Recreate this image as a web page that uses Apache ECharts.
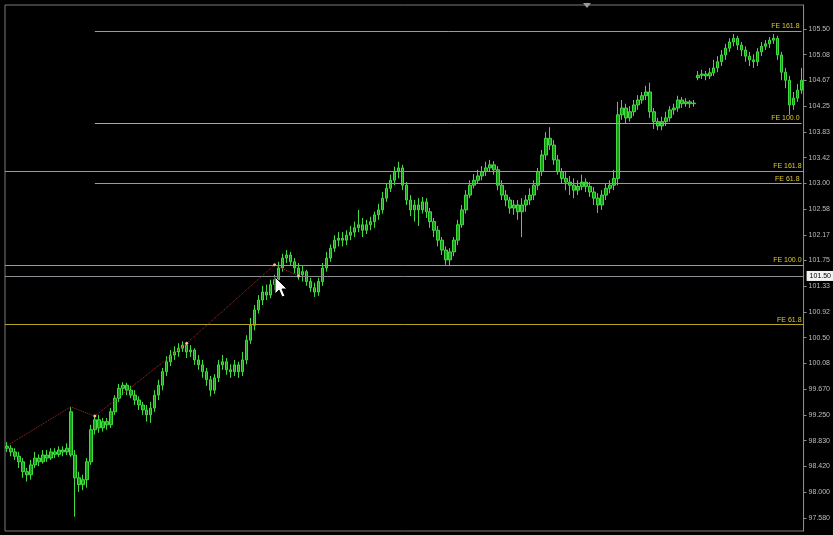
<!DOCTYPE html>
<html><head><meta charset="utf-8">
<script src="https://cdn.jsdelivr.net/npm/echarts@6/dist/echarts.min.js"></script>
<style>html,body{margin:0;padding:0;background:#000;}#c{width:833px;height:535px;}</style>
</head><body><div id="c"></div>
<script>
// OHLC bars: [open, close, low, high]
const bars = [
[98.74,98.71,98.65,98.81],[98.71,98.65,98.58,98.76],[98.65,98.58,98.52,98.71],[98.58,98.49,98.39,98.65],[98.49,98.33,98.23,98.55],
[98.33,98.28,98.17,98.39],[98.28,98.44,98.20,98.52],[98.44,98.55,98.39,98.65],[98.55,98.49,98.42,98.61],[98.49,98.60,98.46,98.68],
[98.60,98.55,98.49,98.68],[98.55,98.65,98.52,98.71],[98.65,98.61,98.55,98.71],[98.61,98.68,98.57,98.74],[98.68,98.65,98.58,98.74],
[98.65,98.71,98.60,98.79],[98.60,99.30,98.57,99.38],[98.60,98.23,97.60,98.68],[98.23,98.12,98.00,98.33],[98.12,98.20,98.03,98.28],
[98.20,98.49,98.07,98.55],[98.49,99.01,98.44,99.09],[99.01,99.17,98.93,99.25],[99.17,99.04,98.96,99.25],[99.04,99.14,98.98,99.20],
[99.14,99.09,99.01,99.20],[99.09,99.30,99.04,99.36],[99.30,99.52,99.25,99.57],[99.52,99.68,99.46,99.75],[99.68,99.73,99.57,99.78],
[99.73,99.65,99.57,99.77],[99.65,99.57,99.52,99.72],[99.57,99.49,99.41,99.65],[99.49,99.41,99.33,99.55],[99.41,99.33,99.25,99.46],
[99.33,99.25,99.14,99.41],[99.25,99.36,99.12,99.46],[99.36,99.57,99.30,99.65],[99.57,99.73,99.49,99.82],[99.73,99.95,99.65,100.01],
[99.95,100.11,99.88,100.20],[100.11,100.22,100.04,100.30],[100.22,100.27,100.14,100.36],[100.27,100.33,100.19,100.41],[100.33,100.38,100.27,100.44],
[100.38,100.27,100.17,100.43],[100.27,100.30,100.19,100.38],[100.30,100.14,100.06,100.33],[100.14,100.06,99.98,100.22],[100.06,99.95,99.85,100.14],
[99.95,99.82,99.72,100.01],[99.82,99.65,99.55,99.88],[99.65,99.85,99.59,99.91],[99.85,100.06,99.78,100.14],[100.06,100.11,99.98,100.22],
[100.11,99.98,99.90,100.17],[99.98,99.95,99.85,100.07],[99.95,100.06,99.88,100.14],[100.06,99.95,99.85,100.11],[99.95,100.14,99.88,100.27],
[100.14,100.46,100.07,100.54],[100.46,100.70,100.40,100.82],[100.70,100.95,100.62,101.03],[100.95,101.11,100.89,101.19],[101.11,101.24,101.03,101.34],
[101.24,101.19,101.11,101.36],[101.19,101.36,101.14,101.44],[101.36,101.44,101.27,101.52],[101.44,101.63,101.38,101.73],[101.63,101.79,101.57,101.86],
[101.79,101.84,101.71,101.92],[101.84,101.73,101.66,101.89],[101.73,101.63,101.54,101.79],[101.63,101.52,101.44,101.71],[101.52,101.57,101.41,101.66],
[101.57,101.41,101.34,101.60],[101.41,101.31,101.24,101.47],[101.31,101.24,101.16,101.39],[101.24,101.41,101.18,101.47],[101.41,101.63,101.34,101.71],
[101.63,101.79,101.57,101.89],[101.79,101.95,101.73,102.01],[101.95,102.08,101.89,102.16],[102.08,102.11,101.98,102.21],[102.11,102.08,101.98,102.21],
[102.08,102.16,102.00,102.24],[102.16,102.21,102.08,102.31],[102.21,102.28,102.13,102.38],[102.28,102.33,102.21,102.57],[102.33,102.24,102.13,102.44],
[102.24,102.33,102.18,102.41],[102.33,102.38,102.24,102.46],[102.38,102.49,102.28,102.54],[102.49,102.57,102.41,102.67],[102.57,102.76,102.51,102.86],
[102.76,102.92,102.70,103.00],[102.92,103.05,102.86,103.14],[103.05,103.19,102.97,103.27],[103.19,103.25,103.08,103.35],[103.25,102.97,102.89,103.30],
[102.97,102.73,102.65,103.02],[102.73,102.57,102.47,102.81],[102.57,102.65,102.38,102.73],[102.65,102.57,102.31,102.76],[102.57,102.70,102.51,102.78],
[102.70,102.54,102.44,102.76],[102.54,102.38,102.28,102.60],[102.38,102.24,102.13,102.44],[102.24,102.08,101.98,102.31],[102.08,101.92,101.84,102.13],
[101.92,101.76,101.68,101.98],[101.76,101.89,101.66,101.95],[101.89,102.08,101.82,102.13],[102.08,102.33,102.00,102.41],[102.33,102.57,102.28,102.65],
[102.57,102.81,102.51,102.89],[102.81,102.97,102.76,103.05],[102.97,103.05,102.92,103.15],[103.05,103.12,102.99,103.22],[103.12,103.19,103.05,103.28],
[103.19,103.25,103.12,103.35],[103.25,103.30,103.19,103.38],[103.30,103.22,103.14,103.36],[103.22,102.97,102.89,103.28],[102.97,102.81,102.73,103.05],
[102.81,102.73,102.63,102.89],[102.73,102.60,102.51,102.78],[102.60,102.65,102.49,102.73],[102.65,102.54,102.41,102.73],[102.54,102.65,102.13,102.76],
[102.65,102.73,102.54,102.81],[102.73,102.81,102.65,102.92],[102.81,102.97,102.73,103.05],[102.97,103.19,102.89,103.25],[103.19,103.46,103.12,103.54],
[103.46,103.73,103.38,103.83],[103.73,103.62,103.54,103.91],[103.62,103.38,103.30,103.70],[103.38,103.19,103.14,103.46],[103.19,103.08,103.00,103.25],
[103.08,103.02,102.89,103.19],[103.02,102.97,102.81,103.12],[102.97,102.89,102.76,103.08],[102.89,102.95,102.81,103.05],[102.95,103.02,102.89,103.14],
[103.02,102.95,102.86,103.08],[102.95,102.86,102.78,103.02],[102.86,102.76,102.65,102.94],[102.76,102.65,102.52,102.84],[102.65,102.81,102.57,102.89],
[102.81,102.92,102.73,103.00],[102.92,102.97,102.84,103.05],[102.97,103.08,102.89,103.22],[103.08,104.11,102.97,104.32],[104.11,104.22,104.03,104.35],
[104.22,104.06,103.97,104.29],[104.06,104.16,104.00,104.25],[104.16,104.27,104.09,104.35],[104.27,104.35,104.19,104.43],[104.35,104.42,104.29,104.48],
[104.42,104.48,104.35,104.58],[104.48,104.16,104.06,104.63],[104.16,104.00,103.88,104.22],[104.00,103.93,103.86,104.06],[103.93,104.00,103.86,104.08],
[104.00,104.06,103.93,104.16],[104.06,104.19,104.00,104.25],[104.19,104.22,104.11,104.29],[104.22,104.35,104.16,104.42],[104.35,104.29,104.22,104.40],
[104.29,104.32,104.24,104.38],[104.32,104.29,104.22,104.35],[104.29,104.30,104.24,104.35],[104.71,104.75,104.67,104.82],[104.75,104.77,104.69,104.84],
[104.77,104.74,104.67,104.82],[104.74,104.79,104.69,104.87],[104.79,104.87,104.74,105.00],[104.87,104.97,104.80,105.06],[104.97,105.08,104.90,105.16],
[105.08,105.19,105.00,105.26],[105.19,105.29,105.13,105.35],[105.29,105.35,105.22,105.42],[105.35,105.24,105.16,105.39],[105.24,105.16,105.06,105.29],
[105.16,105.06,104.97,105.22],[105.06,105.00,104.90,105.13],[105.00,104.97,104.87,105.09],[104.97,105.13,104.90,105.19],[105.13,105.22,105.06,105.29],
[105.22,105.26,105.16,105.32],[105.26,105.32,105.19,105.37],[105.32,105.35,105.26,105.42],[105.35,105.08,105.00,105.39],[105.08,104.80,104.67,105.13],
[104.80,104.67,104.54,104.87],[104.67,104.27,104.11,104.74],[104.27,104.38,104.19,104.48],[104.38,104.51,104.32,104.61],[104.51,104.67,104.45,104.87]
];
const categories = bars.map((b, i) => String(i));

const tickValues = [97.58333,98.0,98.41667,98.83333,99.25,99.66667,100.08333,100.5,100.91667,101.33333,101.75,102.16667,102.58333,103.0,103.41667,103.83333,104.25,104.66667,105.08333,105.5];
const tickLabels = ["97.580","98.000","98.420","98.830","99.250","99.670","100.08","100.50","100.92","101.33","101.75","102.17","102.58","103.00","103.42","103.83","104.25","104.67","105.08","105.50"];

// Fibonacci expansion levels
const feNames  = ["FE 161.8","FE 100.0","FE 61.8","FE 161.8","FE 100.0","FE 61.8"];
const feValues = [105.47, 103.98, 103.00, 103.20, 101.68, 100.72];
const feStart  = [22, 22, 22, null, null, null];

// current bid
const bidValue = 101.50;
const bidLabel = "101.50";

// zigzag / anchor points
const zigIdx = [0, 16, 22, 45, 67, 73];
const zigVal = [98.75, 99.38, 99.23, 100.41, 101.68, 101.50];
const zigDot = [false, false, true, true, true, true];

const yMin = 97.369, yMax = 105.889;

const zig = categories.map(() => null);
zigIdx.forEach((k, j) => { zig[k] = { value: zigVal[j], symbolSize: zigDot[j] ? 3 : 0 }; });

const lastIdx = categories.length - 1;
const feLabel = (n) => ({ show: true, formatter: n, position: 'insideEndTop', distance: [2, 1], color: '#dcc836', fontSize: 7, fontFamily: 'Liberation Sans' });
const oliveData = [], paleData = [];
feNames.forEach((n, i) => {
  const pale = (n === "FE 100.0" && feStart[i] !== null);
  const target = pale ? paleData : oliveData;
  if (feStart[i] === null) target.push({ yAxis: feValues[i], label: feLabel(n) });
  else target.push([{ coord: [feStart[i], feValues[i]], label: feLabel(n) }, { coord: [lastIdx, feValues[i]] }]);
});
paleData.push({ yAxis: bidValue, lineStyle: { color: '#8c8c94' },
  label: { show: true, position: 'end', formatter: bidLabel, distance: 3, color: '#000', backgroundColor: '#f2f2f2',
    fontSize: 7, fontFamily: 'Liberation Sans', padding: [2, 3, 1, 3] } });

const chart = echarts.init(document.getElementById('c'));
chart.setOption({
  backgroundColor: '#000',
  animation: false,
  grid: { left: 5, right: 28, top: 5, bottom: 4, show: true, borderColor: '#7a7a7a', borderWidth: 1, backgroundColor: 'transparent' },
  xAxis: { type: 'category', data: categories, boundaryGap: true,
    axisLine: { show: false }, axisTick: { show: false }, axisLabel: { show: false }, splitLine: { show: false } },
  yAxis: { type: 'value', position: 'right', min: yMin, max: yMax, splitLine: { show: false },
    axisLine: { show: true, lineStyle: { color: '#8a8a8a', width: 1 } },
    axisTick: { show: true, length: 3, lineStyle: { color: '#8a8a8a' }, customValues: tickValues },
    axisLabel: { show: true, customValues: tickValues, margin: 5, color: '#bdbdbd', fontSize: 7, fontFamily: 'Liberation Sans',
      formatter: function (v) {
        let best = 0; for (let i = 1; i < tickValues.length; i++) if (Math.abs(tickValues[i] - v) < Math.abs(tickValues[best] - v)) best = i;
        return tickLabels[best];
      } } },
  series: [
    { type: 'candlestick', data: bars, barWidth: 3, z: 3,
      itemStyle: { color: '#1c9a1c', color0: '#1c9a1c', borderColor: '#40dc40', borderColor0: '#40dc40', borderWidth: 1 },
      markLine: { silent: true, symbol: ['none', 'none'], animation: false, precision: 4,
        lineStyle: { color: '#b8a41c', width: 1, type: 'solid', opacity: 1 },
        emphasis: { disabled: true }, data: oliveData } },
    { type: 'line', data: zig, connectNulls: true, symbol: 'circle', showAllSymbol: true,
      lineStyle: { color: '#b02828', width: 1, type: 'dotted' },
      itemStyle: { color: '#ffb4a4', borderWidth: 0 }, z: 5,
      markLine: { silent: true, symbol: ['none', 'none'], animation: false, precision: 4,
        lineStyle: { color: '#b0aa84', width: 1, type: 'solid', opacity: 1 },
        emphasis: { disabled: true }, data: paleData } }
  ],
  graphic: [
    { type: 'polygon', shape: { points: [[583, 3], [591, 3], [587, 8]] }, style: { fill: '#9a9a9a' }, z: 10 },
    { type: 'polygon', shape: { points: [[275, 277], [275, 294], [279, 290], [282, 297], [285, 296], [282, 289], [287, 289]] },
      style: { fill: '#ffffff', stroke: '#000', lineWidth: 1 }, z: 20 }
  ]
});
</script></body></html>
